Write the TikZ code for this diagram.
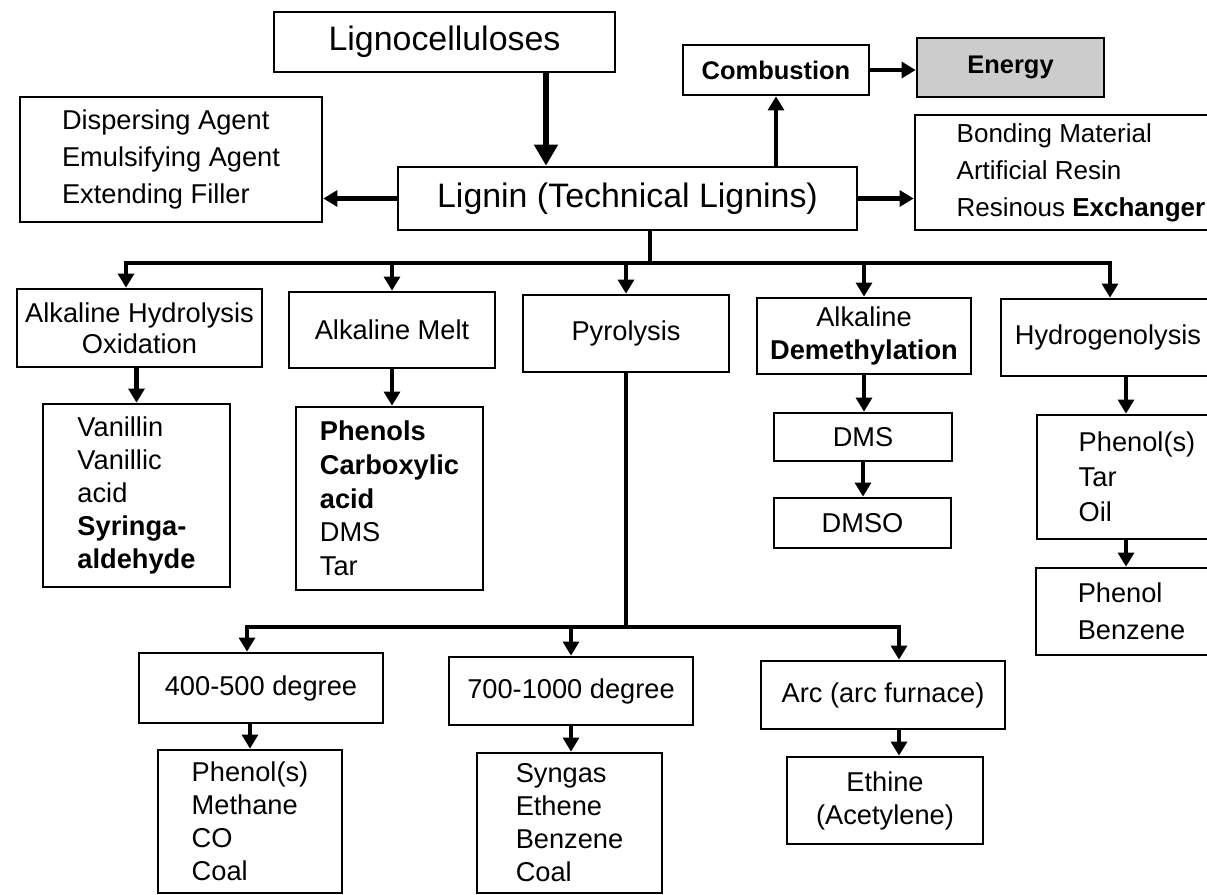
\documentclass[tikz,border=0pt]{standalone}
\usepackage{fontspec}
\setmainfont{Liberation Sans}
\usetikzlibrary{arrows.meta}

\begin{document}
\begin{tikzpicture}[->,>={Triangle[length=8pt,width=9pt]}, x=0.02cm, y=-0.02cm]
\tikzset{box/.style={draw,line width=1.5pt,fill=white,inner sep=2pt,align=center,font=\fontsize{15.5}{18.8}\selectfont},
  bigbox/.style={box,font=\fontsize{19.3}{23}\selectfont},
  listbox/.style={box,align=left},
  link/.style={line width=2.4pt}}

\useasboundingbox (0,0) rectangle (1207,895);

% lignin and its direct uses
\node[bigbox, minimum width=6.82cm, minimum height=1.2cm] (lcell) at (444.5,42) {Lignocelluloses};
\node[bigbox, minimum width=9.18cm, minimum height=1.26cm] (lig) at (627.5,198.5) {Lignin (Technical Lignins)};
\node[box, minimum width=3.72cm, minimum height=1cm, font=\fontsize{14.5}{17}\selectfont] (comb) at (776,70) {\textbf{Combustion}};
\node[box, fill=black!20, minimum width=3.74cm, minimum height=1.18cm, font=\fontsize{14.5}{17}\selectfont] (energy) at (1010.5,67.5) {\textbf{Energy}};
\node[listbox, minimum width=6.04cm, minimum height=2.5cm, font=\fontsize{15.5}{21}\selectfont] (disp) at (171,159.5) {Dispersing Agent\\Emulsifying Agent\\Extending Filler};
\node[listbox, minimum width=6.64cm, minimum height=2.3cm, font=\fontsize{14.8}{21}\selectfont] (bond) at (1081,172.5) {Bonding Material\\Artificial Resin\\Resinous \textbf{Exchanger}};

% processes
\node[box, minimum width=4.9cm, minimum height=1.56cm, font=\fontsize{15.5}{17.6}\selectfont] (ahyd) at (139.5,328) {Alkaline Hydrolysis\\Oxidation};
\node[box, minimum width=4.12cm, minimum height=1.52cm] (amelt) at (392,330) {Alkaline Melt};
\node[box, minimum width=4.12cm, minimum height=1.54cm] (pyr) at (626,333.5) {Pyrolysis};
\node[box, minimum width=4.28cm, minimum height=1.52cm, font=\fontsize{15.5}{19}\selectfont] (ademe) at (864,336) {Alkaline\\\textbf{Demethylation}};
\node[box, minimum width=4.28cm, minimum height=1.54cm] (hydro) at (1108,337.5) {Hydrogenolysis};

% products
\node[listbox, minimum width=3.74cm, minimum height=3.66cm] (van) at (136.5,495.5) {Vanillin\\Vanillic\\acid\\\textbf{Syringa-}\\\textbf{aldehyde}};
\node[listbox, minimum width=3.74cm, minimum height=3.66cm, font=\fontsize{15.5}{19.2}\selectfont] (phen) at (389.5,498.5) {\textbf{Phenols}\\\textbf{Carboxylic}\\\textbf{acid}\\DMS\\Tar};
\node[box, minimum width=3.56cm, minimum height=0.96cm] (dms) at (863,437) {DMS};
\node[box, minimum width=3.54cm, minimum height=1cm] (dmso) at (862.5,523) {DMSO};
\node[listbox, minimum width=4cm, minimum height=2.48cm, font=\fontsize{15.5}{20}\selectfont] (htar) at (1137,477) {Phenol(s)\\Tar\\Oil};
\node[listbox, minimum width=3.82cm, minimum height=1.74cm, font=\fontsize{15.5}{21}\selectfont] (hben) at (1131.5,611.5) {Phenol\\Benzene};

% pyrolysis temperatures
\node[box, minimum width=4.88cm, minimum height=1.4cm] (t400) at (261,688) {400-500 degree};
\node[box, minimum width=4.88cm, minimum height=1.36cm] (t700) at (571,691) {700-1000 degree};
\node[box, minimum width=4.88cm, minimum height=1.36cm] (arc) at (883,695) {Arc (arc furnace)};
\node[listbox, minimum width=3.68cm, minimum height=2.86cm] (p400) at (250,821.5) {Phenol(s)\\Methane\\CO\\Coal};
\node[listbox, minimum width=3.7cm, minimum height=2.8cm] (p700) at (569.5,823) {Syngas\\Ethene\\Benzene\\Coal};
\node[box, minimum width=3.92cm, minimum height=1.74cm] (eth) at (885,800.5) {Ethine\\(Acetylene)};

% connectors
\draw[line width=3.4pt, -{Triangle[length=12pt,width=13pt]}] ([xshift=2.03cm]lcell.south) -- ([xshift=2.03cm]lcell.south |- lig.north);
\draw[link] (comb.south |- lig.north) -- (comb.south);
\draw[link] (comb.east) -- (comb.east -| energy.west);
\draw[link] (lig.west) -- (lig.west -| disp.east);
\draw[link] (lig.east) -- (lig.east -| bond.west);

\coordinate (b1) at (650,263);
\coordinate (b1l) at (126,263);
\coordinate (b1r) at (1110,263);
\draw[link,-] (lig.south -| b1) -- (b1);
\draw[link,<->] (b1l |- ahyd.north) -- (b1l) -- (b1r) -- (b1r |- hydro.north);
\draw[link] (b1 -| amelt.north) -- (amelt.north);
\draw[link] (b1 -| pyr.north) -- (pyr.north);
\draw[link] (b1 -| ademe.north) -- (ademe.north);

\draw[link] (van.north |- ahyd.south) -- (van.north);
\draw[link] (amelt.south) -- (amelt.south |- phen.north);
\draw[link] (ademe.south) -- (ademe.south |- dms.north);
\draw[link] (dms.south) -- (dms.south |- dmso.north);
\draw[link] ([xshift=-0.22cm]htar.north |- hydro.south) -- ([xshift=-0.22cm]htar.north);
\draw[link] ([xshift=-0.22cm]htar.south) -- ([xshift=-0.22cm]htar.south |- hben.north);

\coordinate (b2) at (627,627);
\coordinate (b2l) at (247,627);
\coordinate (b2r) at (899,627);
\draw[link,-] (pyr.south) -- (pyr.south |- b2);
\draw[link,<->] (b2l |- t400.north) -- (b2l) -- (b2r) -- (b2r |- arc.north);
\draw[link] (b2 -| t700.north) -- (t700.north);

\draw[link] (p400.north |- t400.south) -- (p400.north);
\draw[link] (t700.south) -- (t700.south |- p700.north);
\draw[link] (b2r |- arc.south) -- (b2r |- eth.north);

\end{tikzpicture}
\end{document}
